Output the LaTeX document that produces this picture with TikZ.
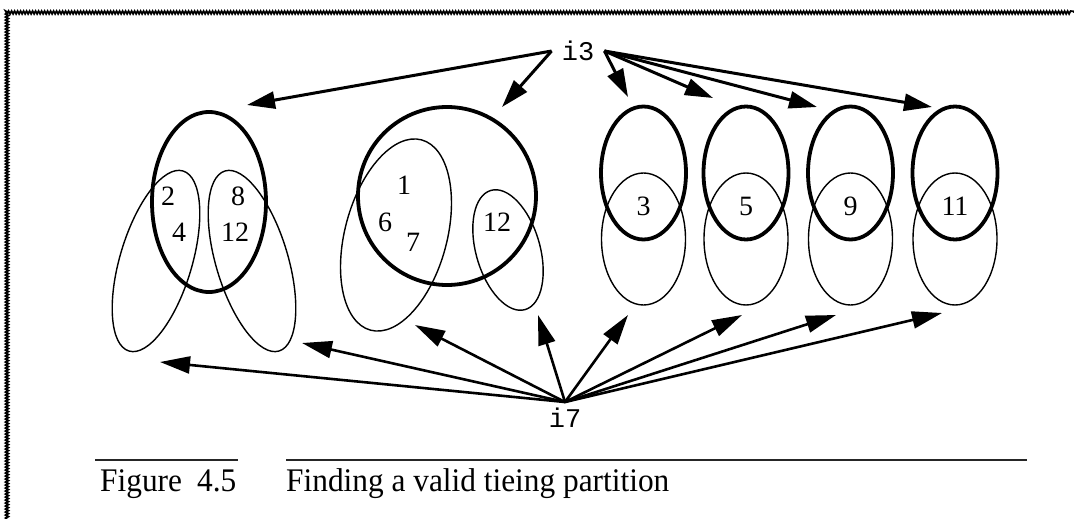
\documentclass[tikz,border=0pt]{standalone}
\usepackage{fontspec}
\setmainfont{Liberation Serif}
\newfontfamily\codefont{Liberation Mono}
\usetikzlibrary{arrows.meta,decorations.pathmorphing}
\tikzset{
  boldset/.style={line width=3.8pt},
  thinset/.style={line width=1.4pt},
  fromtop/.style={line width=3pt,-{Triangle[length=28pt,width=17pt]}},
  frombot/.style={line width=2.6pt,-{Triangle[length=30pt,width=17pt]}},
  elem/.style={font=\fontsize{28}{30}\selectfont,inner sep=0pt},
  var/.style={font=\codefont\fontsize{27}{30}\selectfont},
  capt/.style={font=\fontsize{33}{35}\selectfont,inner sep=0pt,anchor=base west},
}
\begin{document}
\begin{tikzpicture}[x=1pt,y=-1pt]
\useasboundingbox (0,0) rectangle (1074,519);
\draw[line width=1.8pt,decorate,decoration={snake,segment length=3pt,amplitude=1.4pt}] (7,519) -- (7,12) -- (1074,12);

\draw[boldset] (209,202) ellipse [x radius=57, y radius=90];
\draw[thinset,rotate around={-16.7:(156,261)}] (156,261) ellipse [x radius=36, y radius=94];
\draw[thinset,rotate around={16.7:(252,261)}] (252,261) ellipse [x radius=36, y radius=94];
\node[elem] (a2) at (168,196) {2};
\node[elem] (a4) at (179,232) {4};
\node[elem] (a8) at (238,196) {8};
\node[elem] (a12) at (235,232) {12};

\draw[boldset] (447,196) circle [radius=89];
\draw[thinset,rotate around={-15:(396,235)}] (396,235) ellipse [x radius=51, y radius=98.5];
\draw[thinset,rotate around={16:(508,250)}] (508,250) ellipse [x radius=32, y radius=62];
\node[elem] (b1) at (404,185) {1};
\node[elem] (b6) at (385,222) {6};
\node[elem] (b7) at (413,242) {7};
\node[elem] (b12) at (497,222) {12};

\draw[boldset] (643.5,173) ellipse [x radius=42.5, y radius=66.5];
\draw[thinset] (643.5,239) ellipse [x radius=42, y radius=66];
\draw[boldset] (746,173) ellipse [x radius=42.5, y radius=66.5];
\draw[thinset] (746,239) ellipse [x radius=42, y radius=66];
\draw[boldset] (850.5,173) ellipse [x radius=42.5, y radius=66.5];
\draw[thinset] (850.5,239) ellipse [x radius=42, y radius=66];
\draw[boldset] (955,173) ellipse [x radius=42.5, y radius=66.5];
\draw[thinset] (955,239) ellipse [x radius=42, y radius=66];
\node[elem] (c3) at (643.5,206) {3};
\node[elem] (c5) at (746,206) {5};
\node[elem] (c9) at (850.5,206) {9};
\node[elem] (c11) at (955,206) {11};

\node[var,inner xsep=10pt,inner ysep=0pt] (i3) at (578,51) {i3};
\node[var,inner ysep=6pt] (i7) at (565,418) {i7};

\coordinate (s1) at (247,105);
\coordinate (s2) at (502,107);
\coordinate (s3) at (628,97);
\coordinate (s4) at (713,98);
\coordinate (s5) at (817,107);
\coordinate (s6) at (932,107);
\coordinate (r1) at (160,362);
\coordinate (r2) at (302,343);
\coordinate (r3) at (415,325);
\coordinate (r4) at (538,315);
\coordinate (r5) at (628,315);
\coordinate (r6) at (742,315);
\coordinate (r7) at (836,315);
\coordinate (r8) at (942,313);

\draw[fromtop] (i3.west) -- (s1);
\draw[fromtop] (i3.west) -- (s2);
\draw[fromtop] (i3.east) -- (s3);
\draw[fromtop] (i3.east) -- (s4);
\draw[fromtop] (i3.east) -- (s5);
\draw[fromtop] (i3.east) -- (s6);
\draw[frombot] (i7.north) -- (r1);
\draw[frombot] (i7.north) -- (r2);
\draw[frombot] (i7.north) -- (r3);
\draw[frombot] (i7.north) -- (r4);
\draw[frombot] (i7.north) -- (r5);
\draw[frombot] (i7.north) -- (r6);
\draw[frombot] (i7.north) -- (r7);
\draw[frombot] (i7.north) -- (r8);

\draw[line width=1.6pt,black!85] (95,460) -- (238,460);
\draw[line width=1.6pt,black!85] (286,460) -- (1027,460);
\node[capt] (fig) at (100,491) {\scalebox{0.95}[1]{Figure\hspace{16pt}4.5}};
\node[capt] (title) at (286,491) {\scalebox{0.95}[1]{Finding a valid tieing partition}};
\end{tikzpicture}
\end{document}
